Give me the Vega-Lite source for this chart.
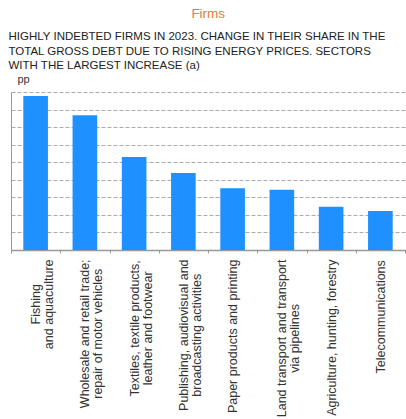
{
  "$schema": "https://vega.github.io/schema/vega-lite/v6.json",
  "padding": {"left": 5, "top": 6, "right": 0, "bottom": 0},
  "background": "white",
  "config": {"view": {"stroke": null}, "font": "Liberation Sans"},
  "title": {"text": "Firms", "color": "#E8783C", "fontSize": 13.5, "fontWeight": "normal", "anchor": "middle", "offset": 11, "dx": 3},
  "vconcat": [
    {
      "width": 394,
      "height": 158,
      "title": {
        "text": ["HIGHLY INDEBTED FIRMS IN 2023. CHANGE IN THEIR SHARE IN THE", "TOTAL GROSS DEBT DUE TO RISING ENERGY PRICES. SECTORS", "WITH THE LARGEST INCREASE  (a)"],
        "anchor": "start",
        "fontSize": 11.5,
        "fontWeight": "normal",
        "lineHeight": 14.7,
        "color": "#222222",
        "dx": 3.5,
        "offset": 1
      },
      "data": {
        "values": [
          {"sector": "Fishing|and aquaculture", "value": 8.77},
          {"sector": "Wholesale and retail trade;|repair of motor vehicles", "value": 7.67},
          {"sector": "Textiles, textile products,|leather and footwear", "value": 5.3},
          {"sector": "Publishing, audiovisual and|broadcasting activities", "value": 4.38},
          {"sector": "Paper products and printing", "value": 3.52},
          {"sector": "Land transport and transport|via pipelines", "value": 3.43},
          {"sector": "Agriculture, hunting, forestry", "value": 2.46},
          {"sector": "Telecommunications", "value": 2.22}
        ]
      },
      "mark": {"type": "bar", "color": "#1E90FF", "width": {"band": 0.5}},
      "encoding": {
        "x": {
          "field": "sector",
          "type": "nominal",
          "sort": null,
          "scale": {"paddingInner": 0, "paddingOuter": 0},
          "axis": {
            "title": null,
            "labelAngle": 270,
            "labelAlign": "center",
            "labelBaseline": "middle",
            "labelExpr": "split(datum.label, '|')",
            "labelFontSize": 12.5,
            "labelLineHeight": 13,
            "labelColor": "#333333",
            "labelLimit": 0,
            "labelPadding": {
              "condition": [
                {"test": "datum.value === 'Fishing|and aquaculture'", "value": 50.8},
                {"test": "datum.value === 'Wholesale and retail trade;|repair of motor vehicles'", "value": 80.3},
                {"test": "datum.value === 'Textiles, textile products,|leather and footwear'", "value": 74.8},
                {"test": "datum.value === 'Publishing, audiovisual and|broadcasting activities'", "value": 81.7},
                {"test": "datum.value === 'Paper products and printing'", "value": 82.8},
                {"test": "datum.value === 'Land transport and transport|via pipelines'", "value": 84.9},
                {"test": "datum.value === 'Agriculture, hunting, forestry'", "value": 84.2}
              ],
              "value": 63.3
            },
            "tickBand": "extent",
            "tickSize": 3,
            "tickColor": "#999999",
            "domainColor": "#999999",
            "domainWidth": 1.5
          }
        },
        "y": {
          "field": "value",
          "type": "quantitative",
          "scale": {"domain": [0, 9]},
          "axis": {
            "title": "pp",
            "titleAngle": 0,
            "titleX": 6,
            "titleY": -10,
            "titleAlign": "left",
            "titleBaseline": "alphabetic",
            "titleFontSize": 11,
            "titleFontWeight": "normal",
            "titleColor": "#333333",
            "labels": false,
            "ticks": false,
            "values": [0, 1, 2, 3, 4, 5, 6, 7, 8, 9],
            "domainColor": "#999999",
            "gridColor": "#AAAAAA",
            "gridDash": [4, 2]
          }
        }
      }
    }
  ]
}
